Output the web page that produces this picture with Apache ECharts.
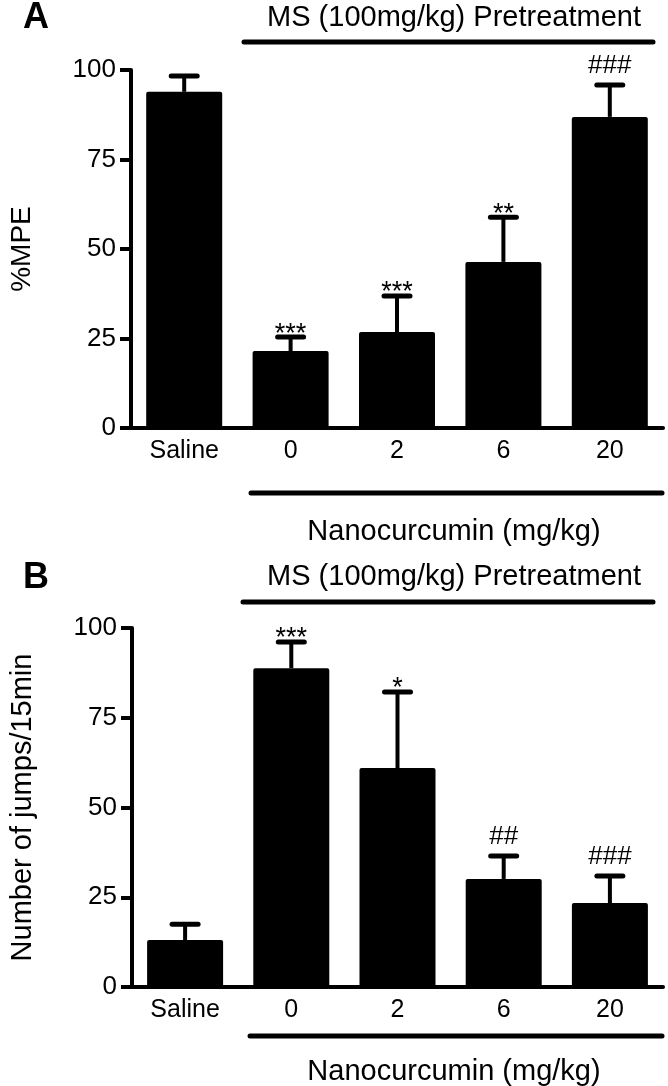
<!DOCTYPE html>
<html>
<head>
<meta charset="utf-8">
<script src="https://cdn.jsdelivr.net/npm/echarts@6/dist/echarts.min.js"></script>
<style>
  html, body { margin: 0; padding: 0; background: #fff; }
  #chart { width: 668px; height: 1086px; }
</style>
</head>
<body>
<div id="chart"></div>
<script>
// groups on the x axis
const categories = ['Saline', '0', '2', '6', '20'];
const yTicks = [0, 25, 50, 75, 100];

// panel A: %MPE
const mpeMean = [93.9, 21.5, 26.8, 46.4, 86.9];
const mpeSem = [4.4, 3.9, 10.1, 12.5, 8.9];
const mpeSig = ['', '***', '***', '**', '###'];

// panel B: number of jumps / 15 min
const jumpMean = [13.1, 88.8, 61.0, 30.1, 23.4];
const jumpSem = [4.4, 7.3, 21.2, 6.4, 7.5];
const jumpSig = ['', '***', '*', '##', '###'];

const FONT = '"Liberation Sans", Arial, Helvetica, sans-serif';
const chart = echarts.init(document.getElementById('chart'));

function errorRenderer(sig) {
  return function (params, api) {
    const cat = api.value(0);
    const m = api.value(1);
    const e = api.value(2);
    const p0 = api.coord([cat, m]);
    const p1 = api.coord([cat, m + e]);
    const children = [
      { type: 'line', shape: { x1: p0[0], y1: p0[1], x2: p1[0], y2: p1[1] },
        style: { stroke: '#000', lineWidth: 4 } },
      { type: 'line', shape: { x1: p1[0] - 13, y1: p1[1], x2: p1[0] + 13, y2: p1[1] },
        style: { stroke: '#000', lineWidth: 5, lineCap: 'round' } }
    ];
    const s = sig[params.dataIndex];
    if (s) {
      const isStar = s.indexOf('*') >= 0;
      children.push({
        type: 'text',
        x: p1[0],
        y: p1[1] - (isStar ? 3 : 19),
        style: {
          text: s, fill: '#000', font: (isStar ? '27px ' : '26px ') + FONT,
          align: 'center', verticalAlign: 'middle'
        }
      });
    }
    return { type: 'group', children: children };
  };
}

function yAxis(idx, name, size) {
  return {
    type: 'value', gridIndex: idx, min: 0, max: 100, interval: 25,
    name: name, nameLocation: 'middle', nameGap: 95,
    nameTextStyle: { color: '#000', fontSize: size, fontFamily: FONT },
    axisLine: { show: true, lineStyle: { color: '#000', width: 4 } },
    axisTick: { show: true, length: 11, lineStyle: { color: '#000', width: 4 } },
    axisLabel: { color: '#000', fontSize: 26, fontFamily: FONT, margin: 15 },
    splitLine: { show: false }
  };
}

function xAxis(idx) {
  return {
    type: 'category', gridIndex: idx, data: categories,
    axisLine: { show: true, lineStyle: { color: '#000', width: 4 } },
    axisTick: { show: false },
    axisLabel: { color: '#000', fontSize: 25, fontFamily: FONT, margin: 11 }
  };
}

function bars(idx, data) {
  return {
    type: 'bar', xAxisIndex: idx, yAxisIndex: idx, data: data, barWidth: 76,
    itemStyle: { color: '#000', borderRadius: 2 }, z: 2, silent: true
  };
}

function errors(idx, mean, sem, sig) {
  return {
    type: 'custom', xAxisIndex: idx, yAxisIndex: idx, z: 3, silent: true,
    renderItem: errorRenderer(sig),
    data: mean.map((m, i) => [i, m, sem[i]])
  };
}

function bracket(x1, x2, y) {
  return { type: 'line', shape: { x1: x1, y1: y, x2: x2, y2: y },
    style: { stroke: '#000', lineWidth: 5, lineCap: 'round' } };
}
function label(text, x, y, size, weight) {
  return { type: 'text', x: x, y: y,
    style: { text: text, fill: '#000', font: (weight || 'normal') + ' ' + size + 'px ' + FONT,
      align: 'center', verticalAlign: 'middle' } };
}

const option = {
  backgroundColor: '#fff',
  animation: false,
  grid: [
    { left: 127, right: 5, top: 70, height: 358 },
    { left: 127, right: 5, top: 628, height: 359 }
  ],
  xAxis: [xAxis(0), xAxis(1)],
  yAxis: [yAxis(0, '%MPE', 28), yAxis(1, 'Number of jumps/15min', 29)],
  series: [
    bars(0, mpeMean),
    errors(0, mpeMean, mpeSem, mpeSig),
    bars(1, jumpMean),
    errors(1, jumpMean, jumpSem, jumpSig)
  ],
  graphic: [
    label('A', 36, 18, 36, 'bold'),
    label('MS (100mg/kg) Pretreatment', 454, 18, 29),
    bracket(244, 653, 42),
    bracket(251, 662, 493),
    label('Nanocurcumin (mg/kg)', 454, 532, 29),
    label('B', 36, 578, 36, 'bold'),
    label('MS (100mg/kg) Pretreatment', 454, 577, 29),
    bracket(243, 653, 602),
    bracket(250, 662, 1036),
    label('Nanocurcumin (mg/kg)', 454, 1072, 29)
  ]
};

chart.setOption(option);
</script>
</body>
</html>
